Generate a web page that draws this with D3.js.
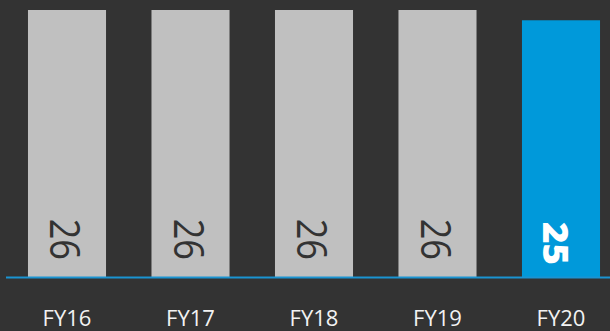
<!DOCTYPE html>
<html>
<head>
<meta charset="utf-8">
<script src="https://cdn.jsdelivr.net/npm/d3@7"></script>
<style>
  html, body { margin: 0; padding: 0; background: #333333; }
  svg { display: block; }
</style>
</head>
<body>
<svg id="chart"></svg>
<script>
const categories = ['FY16', 'FY17', 'FY18', 'FY19', 'FY20'];
const values = [26, 26, 26, 26, 25];
const highlight = ['FY20'];

const width = 610;
const height = 331;
const baseY = 277;

const svg = d3.select('#chart')
  .attr('width', width)
  .attr('height', height);

svg.append('rect')
  .attr('width', width)
  .attr('height', height)
  .attr('fill', '#333333');

const x = d3.scaleBand()
  .domain(categories)
  .range([6, 622])
  .paddingInner(0.368)
  .paddingOuter(0.178);

const y = d3.scaleLinear()
  .domain([0, 26])
  .range([baseY, 10]);

const data = categories.map((c, i) => ({ name: c, value: values[i] }));
const isHi = (d) => highlight.includes(d.name);

svg.selectAll('rect.bar')
  .data(data)
  .enter()
  .append('rect')
  .attr('class', 'bar')
  .attr('x', (d) => x(d.name))
  .attr('y', (d) => y(d.value))
  .attr('width', x.bandwidth())
  .attr('height', (d) => y(0) - y(d.value))
  .attr('fill', (d) => (isHi(d) ? '#0099da' : '#c0c0c0'));

// baseline
svg.append('line')
  .attr('x1', 6)
  .attr('x2', width)
  .attr('y1', baseY + 0.5)
  .attr('y2', baseY + 0.5)
  .attr('stroke', '#1a94d2')
  .attr('stroke-width', 2);

// value labels, rotated (narrowed a bit to match the original face)
svg.selectAll('text.val')
  .data(data)
  .enter()
  .append('text')
  .attr('class', 'val')
  .attr('transform', (d) => {
    const cx = x(d.name) + x.bandwidth() / 2;
    return isHi(d)
      ? `translate(${cx - 5},${baseY - 12}) rotate(90) scale(1.05,1)`
      : `translate(${cx - 1.5},${baseY - 17}) rotate(90) scale(0.86,1)`;
  })
  .attr('text-anchor', 'end')
  .attr('dy', '0.36em')
  .style('font-family', '"Open Sans", sans-serif')
  .style('font-size', (d) => (isHi(d) ? '35px' : '42px'))
  .style('font-weight', (d) => (isHi(d) ? 800 : 400))
  .attr('fill', (d) => (isHi(d) ? '#ffffff' : '#333333'))
  .text((d) => d.value);

// category axis
const xAxis = svg.append('g')
  .attr('transform', `translate(0,${baseY})`)
  .call(d3.axisBottom(x).tickSize(0).tickPadding(33));

xAxis.select('.domain').remove();
xAxis.selectAll('text')
  .attr('dy', '0.71em')
  .style('font-family', '"Open Sans", sans-serif')
  .style('font-size', '22px')
  .attr('fill', '#f2f2f2');
</script>
</body>
</html>
